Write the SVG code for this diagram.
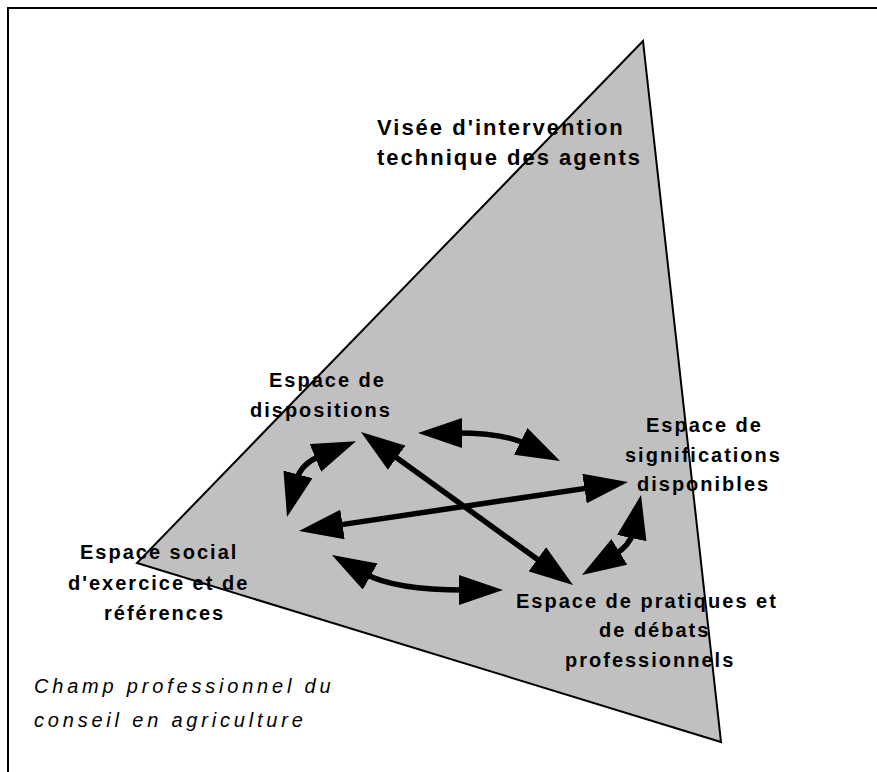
<svg xmlns="http://www.w3.org/2000/svg" width="877" height="772" viewBox="0 0 877 772">
<style>
.lbl{font-family:"Liberation Sans",Arial,sans-serif;font-weight:bold;font-size:20px;letter-spacing:2px;fill:#000}
.ttl{font-family:"Liberation Sans",Arial,sans-serif;font-weight:bold;font-size:22px;letter-spacing:2px;fill:#000}
.cap{font-family:"Liberation Sans",Arial,sans-serif;font-style:italic;font-size:20px;letter-spacing:3.8px;fill:#000}
.arr{fill:none;stroke:#000;stroke-width:5.5;marker-start:url(#ah);marker-end:url(#ah)}
</style>
<defs>
<marker id="ah" markerUnits="userSpaceOnUse" viewBox="0 0 44 30" markerWidth="44" markerHeight="30" refX="6" refY="15" orient="auto-start-reverse">
<path d="M0,0 L44,15 L0,30 z" fill="#000"/>
</marker>
</defs>
<rect width="877" height="772" fill="#fff"/>
<g id="frame"><path d="M8,772 L8,8 L877,8" fill="none" stroke="#000" stroke-width="2"/></g>
<g id="triangle"><polygon points="643,41 721,742 137,563" fill="#c0c0c0" stroke="#000" stroke-width="2" stroke-linejoin="miter"/></g>
<g id="node-visee"><text class="ttl" x="377" y="135">Visée d'intervention</text><text class="ttl" x="377" y="165">technique des agents</text></g>
<g id="node-dispositions"><text class="lbl" x="269" y="387">Espace de</text><text class="lbl" x="250" y="417">dispositions</text></g>
<g id="node-significations"><text class="lbl" x="646" y="432">Espace de</text><text class="lbl" x="625" y="462">significations</text><text class="lbl" x="637" y="491">disponibles</text></g>
<g id="node-social"><text class="lbl" x="80" y="559">Espace social</text><text class="lbl" x="68" y="590">d'exercice et de</text><text class="lbl" x="104" y="620">références</text></g>
<g id="node-pratiques"><text class="lbl" x="516" y="608">Espace de pratiques et</text><text class="lbl" x="599" y="637">de débats</text><text class="lbl" x="565" y="667">professionnels</text></g>
<g id="caption"><text class="cap" x="34" y="693">Champ professionnel du</text><text class="cap" x="34" y="727">conseil en agriculture</text></g>
<g id="connectors">
<path class="arr" d="M391.8,454.2 L542.2,562.8"/>
<path class="arr" d="M336.6,525.4 L590.4,487.6"/>
<path class="arr" d="M456,433 Q504,433 526,444"/>
<path class="arr" d="M296.5,480.2 Q300.7,463.9 320.9,455.6"/>
<path class="arr" d="M365,573.6 Q394,590 465,590"/>
<path class="arr" d="M614.3,555 Q630.2,545.2 633,532.2"/>
</g>
</svg>
